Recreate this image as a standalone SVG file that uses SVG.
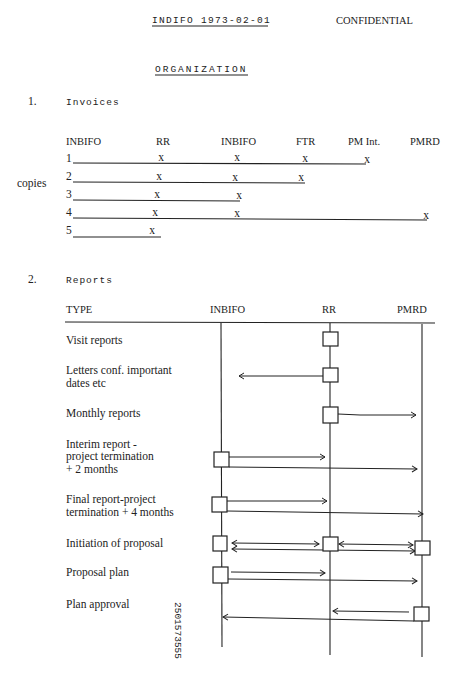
<svg xmlns="http://www.w3.org/2000/svg" width="464" height="692" viewBox="0 0 464 692">
<style>
.mono{font-family:"Liberation Mono","DejaVu Sans Mono",monospace;font-size:9.5px;fill:#222}
.ser{font-family:"Liberation Serif","DejaVu Serif",serif;font-size:11.5px;fill:#222}
.hd{font-family:"Liberation Serif","DejaVu Serif",serif;font-size:10.5px;fill:#222}
.x{font-family:"Liberation Serif","DejaVu Serif",serif;font-size:11.5px;fill:#222;text-anchor:middle}
.ln{stroke:#222;stroke-width:1.1;fill:none}
.box{stroke:#222;stroke-width:1.2;fill:#fff}
.ar{stroke:#222;stroke-width:1;fill:none;marker-end:url(#ah)}
.ar2{stroke:#222;stroke-width:1;fill:none;marker-end:url(#ah);marker-start:url(#ahs)}
</style>
<defs>
<marker id="ah" markerWidth="8" markerHeight="8" refX="6" refY="4" orient="auto" markerUnits="userSpaceOnUse">
<path d="M1,1 L6,4 L1,7" fill="none" stroke="#222" stroke-width="1"/>
</marker>
<marker id="ahs" markerWidth="8" markerHeight="8" refX="2" refY="4" orient="auto" markerUnits="userSpaceOnUse">
<path d="M7,1 L2,4 L7,7" fill="none" stroke="#222" stroke-width="1"/>
</marker>
</defs>
<rect width="464" height="692" fill="#fff"/>

<g id="header">
<text class="mono" x="152" y="23" letter-spacing="1.3">INDIFO 1973-02-01</text>
<line class="ln" x1="152" y1="26" x2="268" y2="26" stroke-width="0.9"/>
<text class="hd" x="336" y="24">CONFIDENTIAL</text>
<text class="mono" x="155" y="72" letter-spacing="2">ORGANIZATION</text>
<line class="ln" x1="155" y1="75" x2="248" y2="75" stroke-width="0.9"/>
</g>

<g id="invoices">
<text class="ser" x="28" y="105">1.</text>
<text class="mono" x="66" y="105" letter-spacing="1">Invoices</text>
<text class="hd" x="66" y="145">INBIFO</text>
<text class="hd" x="156" y="145">RR</text>
<text class="hd" x="221" y="145">INBIFO</text>
<text class="hd" x="296" y="145">FTR</text>
<text class="hd" x="348" y="145">PM Int.</text>
<text class="hd" x="410" y="145">PMRD</text>
<text class="ser" x="17" y="187">copies</text>
<g id="row1">
<text class="ser" x="66" y="162">1</text>
<line class="ln" x1="73" y1="163" x2="366" y2="164"/>
<text class="x" x="161" y="161">x</text><text class="x" x="237" y="161">x</text><text class="x" x="305" y="162">x</text><text class="x" x="367" y="163">x</text>
</g>
<g id="row2">
<text class="ser" x="66" y="180">2</text>
<line class="ln" x1="73" y1="182" x2="305" y2="183"/>
<text class="x" x="159" y="180">x</text><text class="x" x="235" y="181">x</text><text class="x" x="301" y="181">x</text>
</g>
<g id="row3">
<text class="ser" x="66" y="198">3</text>
<line class="ln" x1="73" y1="200" x2="240" y2="201"/>
<text class="x" x="157" y="198">x</text><text class="x" x="239" y="199">x</text>
</g>
<g id="row4">
<text class="ser" x="66" y="216">4</text>
<line class="ln" x1="73" y1="218" x2="427" y2="220"/>
<text class="x" x="155" y="216">x</text><text class="x" x="237" y="217">x</text><text class="x" x="426" y="219">x</text>
</g>
<g id="row5">
<text class="ser" x="66" y="234">5</text>
<line class="ln" x1="73" y1="237" x2="161" y2="237"/>
<text class="x" x="152" y="234">x</text>
</g>
</g>

<g id="reports-labels">
<text class="ser" x="28" y="283">2.</text>
<text class="mono" x="66" y="283" letter-spacing="1">Reports</text>
<text class="hd" x="66" y="313">TYPE</text>
<text class="hd" x="210" y="313">INBIFO</text>
<text class="hd" x="322" y="313">RR</text>
<text class="hd" x="397" y="313">PMRD</text>
<text class="ser" x="66" y="344">Visit reports</text>
<text class="ser" x="66" y="374">Letters conf.  important</text>
<text class="ser" x="66" y="387">dates etc</text>
<text class="ser" x="66" y="417">Monthly reports</text>
<text class="ser" x="66" y="448">Interim report -</text>
<text class="ser" x="66" y="460">project termination</text>
<text class="ser" x="66" y="473">+ 2 months</text>
<text class="ser" x="66" y="503">Final report-project</text>
<text class="ser" x="66" y="516">termination + 4 months</text>
<text class="ser" x="66" y="547">Initiation of proposal</text>
<text class="ser" x="66" y="576">Proposal plan</text>
<text class="ser" x="66" y="608">Plan approval</text>
<text class="mono" transform="translate(175,602) rotate(90)" font-size="11">2501573555</text>
</g>

<g id="connectors">
<line class="ln" x1="65" y1="322" x2="435" y2="323"/>
<line class="ln" x1="221" y1="323" x2="222" y2="647"/>
<line class="ln" x1="330" y1="323" x2="330" y2="655"/>
<line class="ln" x1="422" y1="324" x2="422" y2="657"/>
<line class="ar" x1="323" y1="376" x2="239" y2="376"/>
<polyline class="ar" points="338,414 360,415 416,415"/>
<line class="ar" x1="229" y1="457" x2="325" y2="457"/>
<line class="ar" x1="229" y1="467" x2="417" y2="469"/>
<line class="ar" x1="227" y1="501" x2="327" y2="501"/>
<line class="ar" x1="227" y1="511" x2="423" y2="514"/>
<line class="ar2" x1="232" y1="543" x2="319" y2="544"/>
<line class="ar2" x1="339" y1="544" x2="413" y2="545"/>
<line class="ar2" x1="232" y1="549" x2="415" y2="551"/>
<line class="ar" x1="231" y1="572" x2="325" y2="573"/>
<line class="ar" x1="228" y1="579" x2="417" y2="581"/>
<line class="ar" x1="409" y1="612" x2="333" y2="611"/>
<line class="ar" x1="414" y1="621" x2="223" y2="617"/>
</g>

<g id="box-visit"><rect class="box" x="323" y="332" width="15" height="14"/></g>
<g id="box-letters"><rect class="box" x="323" y="368" width="15" height="14"/></g>
<g id="box-monthly"><rect class="box" x="323" y="407" width="15" height="16"/></g>
<g id="box-interim"><rect class="box" x="214" y="452" width="15" height="15"/></g>
<g id="box-final"><rect class="box" x="212" y="497" width="15" height="15"/></g>
<g id="box-init-indifo"><rect class="box" x="213" y="536" width="14" height="15"/></g>
<g id="box-init-rr"><rect class="box" x="323" y="537" width="15" height="14"/></g>
<g id="box-init-pmrd"><rect class="box" x="415" y="541" width="15" height="14"/></g>
<g id="box-plan"><rect class="box" x="213" y="567" width="15" height="16"/></g>
<g id="box-approval"><rect class="box" x="414" y="607" width="15" height="14"/></g>
</svg>
